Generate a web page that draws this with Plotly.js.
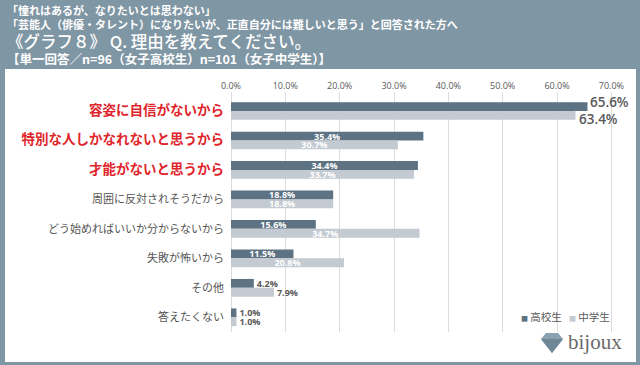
<!DOCTYPE html>
<html>
<head>
<meta charset="utf-8">
<script src="https://cdn.plot.ly/plotly-3.0.1.min.js"></script>
<style>html,body{margin:0;padding:0;background:#7f96a4;}#chart{width:640px;height:365px;}</style>
</head>
<body>
<div id="chart"></div>
<script>
const categories = [
  "容姿に自信がないから",
  "特別な人しかなれないと思うから",
  "才能がないと思うから",
  "周囲に反対されそうだから",
  "どう始めればいいか分からないから",
  "失敗が怖いから",
  "その他",
  "答えたくない"
];
const highlighted = [true, true, true, false, false, false, false, false];
const seriesNames = ["高校生", "中学生"];
const highSchool = [65.6, 35.4, 34.4, 18.8, 15.6, 11.5, 4.2, 1.0];
const middleSchool = [63.4, 30.7, 33.7, 18.8, 34.7, 20.8, 7.9, 1.0];
const tickValues = [0, 10, 20, 30, 40, 50, 60, 70];
const headerLines = [
  "「憧れはあるが、なりたいとは思わない」",
  "「芸能人（俳優・タレント）になりたいが、正直自分には難しいと思う」と回答された方へ",
  "《グラフ８》 Q. 理由を教えてください。",
  "【単一回答／n=96（女子高校生）n=101（女子中学生）】"
];

const W = 640, H = 365;
const M = {l: 231, r: 27, t: 92, b: 33, autoexpand: false};
const PW = W - M.l - M.r, PH = H - M.t - M.b;
const px = x => (x - M.l) / PW;
const py = y => (H - M.b - y) / PH;

const FONT = '"Noto Sans CJK JP", "Noto Sans", sans-serif';
const NUMFONT = '"Open Sans", "Noto Sans", sans-serif';
const DARK = '#5d7282', LIGHT = '#c3cad1', TXT = '#595959';

function labelSpec(vals) {
  const pos = [], col = [];
  vals.forEach((v, i) => {
    if (i === 0) { pos.push('none'); col.push(TXT); }
    else if (v < 10) { pos.push('outside'); col.push(TXT); }
    else { pos.push('inside'); col.push('#ffffff'); }
  });
  return {pos, col};
}

function barTrace(name, vals, color) {
  const s = labelSpec(vals);
  return {
    type: 'bar', orientation: 'h', name: name,
    y: categories, x: vals,
    marker: {color: color},
    text: vals.map(v => v.toFixed(1) + '%'),
    textposition: s.pos,
    insidetextanchor: 'middle',
    constraintext: 'none',
    cliponaxis: false,
    textfont: {family: NUMFONT, color: s.col, size: 9, weight: 'bold'},
    hoverinfo: 'none',
    showlegend: false
  };
}

const ticktext = categories.map((c, i) => highlighted[i]
  ? '<span style="color:#e0242b;font-size:13.5px;font-weight:bold">' + c + '</span>'
  : c);

const shapes = [
  {type: 'rect', xref: 'paper', yref: 'paper', x0: px(5), x1: px(636), y0: py(69), y1: py(362),
   fillcolor: '#ffffff', line: {width: 0}, layer: 'below'},
  {type: 'path', xref: 'paper', yref: 'paper', layer: 'above', line: {width: 0}, fillcolor: '#8aa0b0',
   path: `M ${px(546)},${py(333)} L ${px(558)},${py(333)} L ${px(563)},${py(339)} L ${px(552)},${py(353)} L ${px(541)},${py(339)} Z`},
  {type: 'path', xref: 'paper', yref: 'paper', layer: 'above', line: {width: 0}, fillcolor: '#6f8797',
   path: `M ${px(541)},${py(339)} L ${px(563)},${py(339)} L ${px(552)},${py(353)} Z`}
];

const headerY = [10, 24, 41, 58];
const headerSize = [11, 11, 16.5, 12.5];
const annotations = headerLines.map((t, i) => ({
  text: t, xref: 'paper', yref: 'paper', x: px(5), y: py(headerY[i]),
  xanchor: 'left', yanchor: 'middle', showarrow: false,
  font: {family: FONT, size: headerSize[i], color: '#ffffff', weight: (i === 2) ? 500 : 'bold'}
}));
annotations.push({
  text: 'bijoux', xref: 'paper', yref: 'paper', x: px(566), y: py(342),
  xanchor: 'left', yanchor: 'middle', showarrow: false,
  font: {family: '"Liberation Serif", "DejaVu Serif", serif', size: 21, color: '#6a6a6a'}
});
// large labels for the top category, anchored at the bar ends through the data axes
[[highSchool, 9], [middleSchool, -8]].forEach(([vals, shift]) => {
  annotations.push({
    text: vals[0].toFixed(1) + '%', x: vals[0], y: categories[0], xref: 'x', yref: 'y',
    xanchor: 'left', yanchor: 'middle', yshift: shift, xshift: 1, showarrow: false,
    font: {family: NUMFONT, size: 13.5, color: TXT, weight: 600}
  });
});
// legend
const legendX = [519, 567];
[DARK, LIGHT].forEach((c, i) => {
  annotations.push({
    text: '<span style="color:' + c + ';font-size:7px">■</span> ' + seriesNames[i],
    xref: 'paper', yref: 'paper', x: px(legendX[i]), y: py(316),
    xanchor: 'left', yanchor: 'middle', showarrow: false,
    font: {family: FONT, size: 10.5, color: TXT}
  });
});

const layout = {
  width: W, height: H,
  margin: M,
  paper_bgcolor: '#7f96a4',
  plot_bgcolor: 'rgba(0,0,0,0)',
  barmode: 'group', bargap: 0.4, bargroupgap: 0,
  font: {family: FONT, color: TXT},
  showlegend: false,
  xaxis: {
    side: 'top', range: [0, 70.3], tickvals: tickValues,
    ticktext: tickValues.map(v => v.toFixed(1) + '%'),
    tickfont: {family: NUMFONT, size: 9, color: TXT},
    showgrid: true, gridcolor: '#dcdcdc', gridwidth: 1,
    zeroline: true, zerolinecolor: '#dcdcdc', showline: false, ticks: '', fixedrange: true
  },
  yaxis: {
    type: 'category', autorange: 'reversed',
    tickvals: categories, ticktext: ticktext,
    tickfont: {family: FONT, size: 11, color: '#555555'},
    ticks: '', ticklabelstandoff: 6, showgrid: false, zeroline: false, showline: false, fixedrange: true
  },
  shapes: shapes,
  annotations: annotations
};

Plotly.newPlot('chart', [barTrace(seriesNames[0], highSchool, DARK), barTrace(seriesNames[1], middleSchool, LIGHT)], layout, {displayModeBar: false, staticPlot: true});
</script>
</body>
</html>
